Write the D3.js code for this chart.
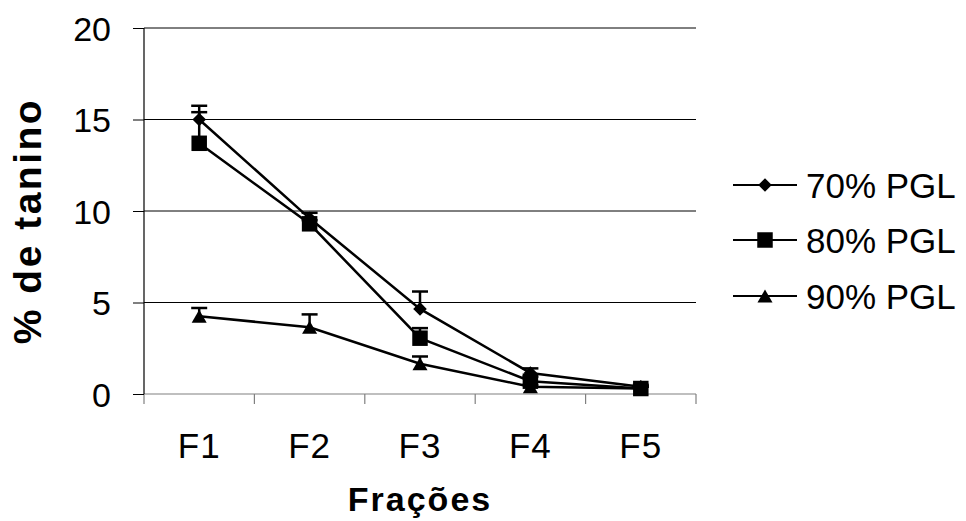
<!DOCTYPE html>
<html>
<head>
<meta charset="utf-8">
<script src="https://cdn.jsdelivr.net/npm/d3@7"></script>
<style>
  body { margin: 0; background: #fff; }
  svg text { font-family: "Liberation Sans", Arial, sans-serif; fill: #000; }
</style>
</head>
<body>
<div id="chart"></div>
<script>
const width = 966, height = 521;

// data
const fractions = ["F1", "F2", "F3", "F4", "F5"];
const seriesNames = ["70% PGL", "80% PGL", "90% PGL"];
const pgl70 = [15.0, 9.6, 4.65, 1.15, 0.4];
const pgl80 = [13.7, 9.3, 3.05, 0.7, 0.3];
const pgl90 = [4.25, 3.65, 1.65, 0.4, 0.3];
const err70 = [0.75, 0.3, 0.95, 0.25, 0.1];
const err80 = [1.7, 0.2, 0.55, 0.25, 0.1];
const err90 = [0.45, 0.7, 0.4, 0.1, 0.1];
const yTicks = [0, 5, 10, 15, 20];

// excel-like markers: square diamond and box-centred triangle
const diamond = {
  draw(ctx, size) {
    const r = Math.sqrt(size / 2);
    ctx.moveTo(0, -r); ctx.lineTo(r, 0); ctx.lineTo(0, r); ctx.lineTo(-r, 0); ctx.closePath();
  }
};
const triangle = {
  draw(ctx, size) {
    const w = Math.sqrt(size * 2 * 15 / 13), h = w * 13 / 15;
    ctx.moveTo(0, -h / 2); ctx.lineTo(w / 2, h / 2); ctx.lineTo(-w / 2, h / 2); ctx.closePath();
  }
};

const series = [
  { name: seriesNames[0], values: pgl70, errs: err70, symbol: diamond, size: 92 },
  { name: seriesNames[1], values: pgl80, errs: err80, symbol: d3.symbolSquare, size: 240 },
  { name: seriesNames[2], values: pgl90, errs: err90, symbol: triangle, size: 98 }
];

const margin = { left: 144, right: 270, top: 28, bottom: 127 };

const svg = d3.select("#chart").append("svg")
  .attr("width", width)
  .attr("height", height);

const x = d3.scaleBand()
  .domain(fractions)
  .range([margin.left, width - margin.right]);

const y = d3.scaleLinear()
  .domain([0, 20])
  .range([height - margin.bottom, margin.top]);

const cx = d => x(d) + x.bandwidth() / 2;

// gridlines
svg.append("g")
  .selectAll("line")
  .data(yTicks.filter(v => v > 0))
  .join("line")
  .attr("x1", margin.left).attr("x2", width - margin.right)
  .attr("y1", d => y(d)).attr("y2", d => y(d))
  .attr("stroke", "#000").attr("stroke-width", 1);

// x axis: grey line, ticks on category boundaries
const xBase = y(0);
const bounds = fractions.map(f => x(f)).concat([x.range()[1]]);
svg.append("line")
  .attr("x1", margin.left).attr("x2", width - margin.right)
  .attr("y1", xBase).attr("y2", xBase)
  .attr("stroke", "#808080").attr("stroke-width", 1.2);
svg.append("g")
  .selectAll("line")
  .data(bounds)
  .join("line")
  .attr("x1", d => d).attr("x2", d => d)
  .attr("y1", xBase).attr("y2", xBase + 10)
  .attr("stroke", "#808080").attr("stroke-width", 1.2);

svg.append("g")
  .selectAll("text")
  .data(fractions)
  .join("text")
  .attr("x", d => cx(d))
  .attr("y", 458)
  .attr("text-anchor", "middle")
  .style("font-size", "35px")
  .style("letter-spacing", "1px")
  .text(d => d);

// y axis
const yAxis = svg.append("g")
  .attr("transform", `translate(${margin.left},0)`)
  .call(d3.axisLeft(y).tickValues(yTicks).tickSize(11).tickPadding(22).tickFormat(d3.format("d")));
yAxis.select(".domain").attr("stroke", "#000").attr("stroke-width", 1.2).attr("d", `M-0,${y(20)}V${y(0)}`);
yAxis.selectAll(".tick line").attr("stroke", "#000");
yAxis.selectAll(".tick text")
  .attr("font-family", null)
  .attr("dy", "0.36em")
  .style("font-size", "34px");

// axis titles
svg.append("text")
  .attr("transform", `translate(41,221) rotate(-90)`)
  .attr("text-anchor", "middle")
  .style("font-size", "39px")
  .style("font-weight", "bold")
  .style("letter-spacing", "2.5px")
  .text("% de tanino");

svg.append("text")
  .attr("x", x.range()[0] + (x.range()[1] - x.range()[0]) / 2)
  .attr("y", 511)
  .attr("text-anchor", "middle")
  .style("font-size", "34px")
  .style("font-weight", "bold")
  .style("letter-spacing", "2px")
  .text("Frações");

// error bars (plus direction only)
const errG = svg.append("g");
series.forEach(s => {
  fractions.forEach((f, i) => {
    const top = y(s.values[i] + s.errs[i]);
    errG.append("line")
      .attr("x1", cx(f)).attr("x2", cx(f))
      .attr("y1", y(s.values[i])).attr("y2", top)
      .attr("stroke", "#000").attr("stroke-width", 2.5);
    errG.append("line")
      .attr("x1", cx(f) - 8).attr("x2", cx(f) + 8)
      .attr("y1", top).attr("y2", top)
      .attr("stroke", "#000").attr("stroke-width", 2.5);
  });
});

// lines + markers
const line = d3.line()
  .x((d, i) => cx(fractions[i]))
  .y(d => y(d));

series.forEach(s => {
  svg.append("path")
    .datum(s.values)
    .attr("fill", "none")
    .attr("stroke", "#000")
    .attr("stroke-width", 2.5)
    .attr("d", line);
  svg.append("g")
    .selectAll("path")
    .data(s.values)
    .join("path")
    .attr("transform", (d, i) => `translate(${cx(fractions[i])},${y(d)})`)
    .attr("d", d3.symbol().type(s.symbol).size(s.size))
    .attr("fill", "#000");
});

// legend
const legendRows = [185, 240, 296];
const legend = svg.append("g");
series.forEach((s, i) => {
  const ly = legendRows[i];
  legend.append("line")
    .attr("x1", 733).attr("x2", 797)
    .attr("y1", ly).attr("y2", ly)
    .attr("stroke", "#000").attr("stroke-width", 2);
  legend.append("path")
    .attr("transform", `translate(765,${ly})`)
    .attr("d", d3.symbol().type(s.symbol).size(s.size))
    .attr("fill", "#000");
  legend.append("text")
    .attr("x", 806)
    .attr("y", ly + 12.5)
    .style("font-size", "35px")
    .text(s.name);
});
</script>
</body>
</html>
